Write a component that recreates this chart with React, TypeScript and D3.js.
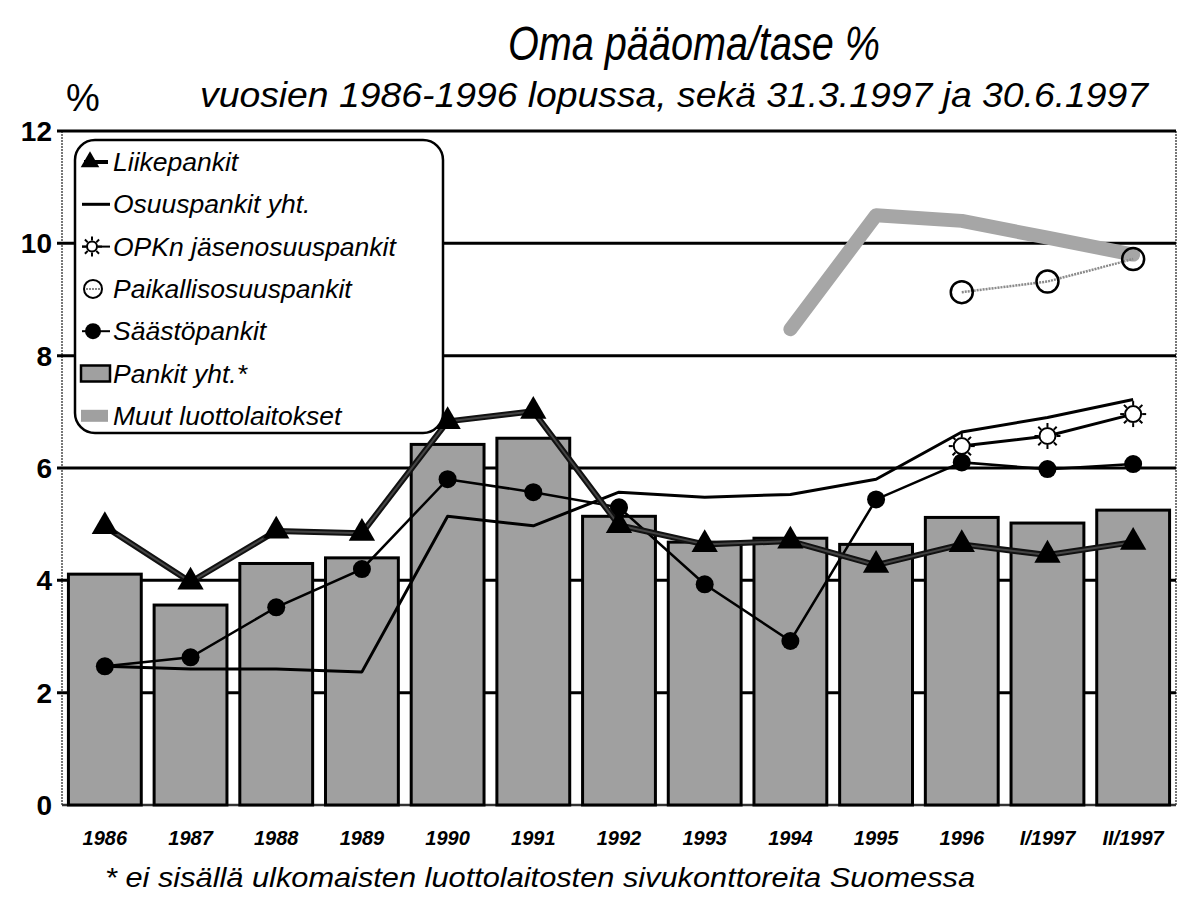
import React from "react";
import * as d3 from "d3";

const categories = ["1986", "1987", "1988", "1989", "1990", "1991", "1992", "1993", "1994", "1995", "1996", "I/1997", "II/1997"];

// Pankit yht.* (bars)
const pankitYht = [4.11, 3.56, 4.3, 4.4, 6.42, 6.53, 5.14, 4.68, 4.75, 4.64, 5.12, 5.02, 5.25];
const liikepankit = [4.96, 3.97, 4.88, 4.84, 6.83, 7.01, 4.98, 4.64, 4.7, 4.27, 4.64, 4.45, 4.68];
const osuuspankit = [2.47, 2.42, 2.42, 2.37, 5.14, 4.97, 5.57, 5.48, 5.53, 5.8, 6.64, 6.9, 7.22];
const saastopankit = [2.47, 2.63, 3.52, 4.2, 5.8, 5.57, 5.3, 3.93, 2.92, 5.44, 6.1, 5.98, 6.07];
const opkn = [null, null, null, null, null, null, null, null, null, null, 6.39, 6.57, 6.96];
const paikallis = [null, null, null, null, null, null, null, null, null, null, 9.13, 9.32, 9.72];
const muut = [null, null, null, null, null, null, null, null, 8.47, 10.5, 10.4, 10.1, 9.8];

const yTicks = [0, 2, 4, 6, 8, 10, 12];

const W = 1180;
const H = 902;
const FONT = "'Liberation Sans', Arial, Helvetica, sans-serif";
const GRAY = "#a0a0a0";

const x = d3.scaleBand<string>().domain(categories).range([62, 1176]).paddingInner(0.15).paddingOuter(0.075);
const y = d3.scaleLinear().domain([0, 12]).range([805, 131]);
const cx = (c: string) => (x(c) as number) + x.bandwidth() / 2;

const toPts = (vals: (number | null)[]) =>
  vals.map((v, i) => ({ c: categories[i], v })).filter((d) => d.v !== null) as { c: string; v: number }[];

const line = d3
  .line<{ c: string; v: number }>()
  .x((d) => cx(d.c))
  .y((d) => y(d.v));

const tri = d3.symbol().type(d3.symbolTriangle).size(300)();
const triSmall = d3.symbol().type(d3.symbolTriangle).size(150)();

const Sun = ({ px, py, r = 8 }: { px: number; py: number; r?: number }) => (
  <g transform={`translate(${px},${py})`}>
    {d3.range(8).map((k) => {
      const a = (k * Math.PI) / 4;
      return (
        <line key={k} x1={Math.cos(a) * (r + 1)} y1={Math.sin(a) * (r + 1)} x2={Math.cos(a) * (r + 5)} y2={Math.sin(a) * (r + 5)} stroke="#000" strokeWidth={2} />
      );
    })}
    <circle r={r} fill="#fff" stroke="#000" strokeWidth={2} />
  </g>
);

const legendItems = [
  "Liikepankit",
  "Osuuspankit yht.",
  "OPKn jäsenosuuspankit",
  "Paikallisosuuspankit",
  "Säästöpankit",
  "Pankit yht.*",
  "Muut luottolaitokset",
];

export default function App() {
  const liike = toPts(liikepankit);
  const osuus = toPts(osuuspankit);
  const saasto = toPts(saastopankit);
  const opk = toPts(opkn);
  const paik = toPts(paikallis);
  const mu = toPts(muut);

  const legendY = (i: number) => 162 + i * 42.3;

  return (
    <div style={{ position: "absolute", left: 0, top: 0 }}>
      <svg width={W} height={H} style={{ display: "block", background: "#fff" }} fontFamily={FONT}>
        {/* titles */}
        <text x={694} y={60} fontSize={48} fontStyle="italic" textAnchor="middle" textLength={372} lengthAdjust="spacingAndGlyphs">
          Oma pääoma/tase %
        </text>
        <text x={200} y={107} fontSize={35} fontStyle="italic" textLength={948} lengthAdjust="spacingAndGlyphs">
          vuosien 1986-1996 lopussa, sekä 31.3.1997 ja 30.6.1997
        </text>
        <text x={66} y={111} fontSize={38}>%</text>

        {/* plot frame */}
        <line x1={62} x2={62} y1={y(12)} y2={y(0)} stroke="#777" strokeWidth={2} strokeDasharray="2,1" />
        <line x1={1176} x2={1176} y1={y(12)} y2={y(0)} stroke="#777" strokeWidth={2} strokeDasharray="2,1" />

        {/* gridlines */}
        {yTicks.map((t) => (
          <g key={t}>
            {t > 0 && <line x1={57} x2={1176} y1={y(t)} y2={y(t)} stroke="#000" strokeWidth={3} />}
            <text x={52} y={y(t) + 10} fontSize={28} fontWeight="bold" textAnchor="end">
              {t}
            </text>
          </g>
        ))}
        <line x1={62} x2={1176} y1={y(0)} y2={y(0)} stroke="#333" strokeWidth={2.5} />

        {/* bars */}
        {categories.map((c, i) => (
          <rect
            key={c}
            x={x(c)}
            y={y(pankitYht[i])}
            width={x.bandwidth()}
            height={y(0) - y(pankitYht[i])}
            fill={GRAY}
            stroke="#000"
            strokeWidth={3}
          />
        ))}

        {/* Muut luottolaitokset */}
        <path d={line(mu) as string} fill="none" stroke="#a6a6a6" strokeWidth={14} strokeLinejoin="round" strokeLinecap="round" />

        {/* Paikallisosuuspankit */}
        <path d={line(paik) as string} fill="none" stroke="#8a8a8a" strokeWidth={2.5} strokeDasharray="2,1" />
        {paik.map((d) => (
          <circle key={d.c} cx={cx(d.c)} cy={y(d.v)} r={11} fill="none" stroke="#000" strokeWidth={2.5} />
        ))}

        {/* Osuuspankit yht. */}
        <path d={line(osuus) as string} fill="none" stroke="#000" strokeWidth={3} strokeLinejoin="round" />

        {/* OPKn */}
        <path d={line(opk) as string} fill="none" stroke="#000" strokeWidth={3} />
        {opk.map((d) => (
          <Sun key={d.c} px={cx(d.c)} py={y(d.v)} />
        ))}

        {/* Säästöpankit */}
        <path d={line(saasto) as string} fill="none" stroke="#000" strokeWidth={2.5} />
        {saasto.map((d) => (
          <circle key={d.c} cx={cx(d.c)} cy={y(d.v)} r={9} fill="#000" />
        ))}

        {/* Liikepankit */}
        <path d={line(liike) as string} fill="none" stroke="#111" strokeWidth={6} strokeLinejoin="round" />
        <path d={line(liike) as string} fill="none" stroke="#444" strokeWidth={2} strokeLinejoin="round" />
        {liike.map((d) => (
          <path key={d.c} d={tri as string} transform={`translate(${cx(d.c)},${y(d.v)})`} fill="#000" />
        ))}

        {/* legend */}
        <rect x={75} y={140} width={368} height={293} rx={20} fill="#fff" stroke="#000" strokeWidth={2.5} />
        <g>
          <line x1={84} x2={108} y1={legendY(0)} y2={legendY(0)} stroke="#000" strokeWidth={4} />
          <path d={triSmall as string} transform={`translate(${90},${legendY(0)})`} fill="#000" />
          <line x1={82} x2={110} y1={legendY(1)} y2={legendY(1)} stroke="#000" strokeWidth={3} />
          <line x1={82} x2={110} y1={legendY(2)} y2={legendY(2)} stroke="#000" strokeWidth={2} />
          <Sun px={92} py={legendY(2)} r={5} />
          <circle cx={93} cy={legendY(3)} r={9} fill="#fff" stroke="#000" strokeWidth={2} />
          <line x1={86} x2={100} y1={legendY(3)} y2={legendY(3)} stroke="#888" strokeWidth={2} strokeDasharray="2,1" />
          <line x1={82} x2={110} y1={legendY(4)} y2={legendY(4)} stroke="#000" strokeWidth={2} />
          <circle cx={93} cy={legendY(4)} r={8} fill="#000" />
          <rect x={81} y={legendY(5) - 8} width={29} height={16} fill={GRAY} stroke="#000" strokeWidth={2.5} />
          <rect x={81} y={legendY(6) - 6} width={27} height={12} fill={GRAY} />
          {legendItems.map((t, i) => (
            <text key={t} x={113} y={legendY(i) + 9} fontSize={26.5} fontStyle="italic">
              {t}
            </text>
          ))}
        </g>

        {/* x labels */}
        {categories.map((c) => (
          <text key={c} x={cx(c)} y={845} fontSize={20} fontWeight="bold" fontStyle="italic" textAnchor="middle">
            {c}
          </text>
        ))}

        {/* footnote */}
        <text x={105} y={887} fontSize={28} fontStyle="italic" textLength={870} lengthAdjust="spacingAndGlyphs">
          * ei sisällä ulkomaisten luottolaitosten sivukonttoreita Suomessa
        </text>
      </svg>
    </div>
  );
}
